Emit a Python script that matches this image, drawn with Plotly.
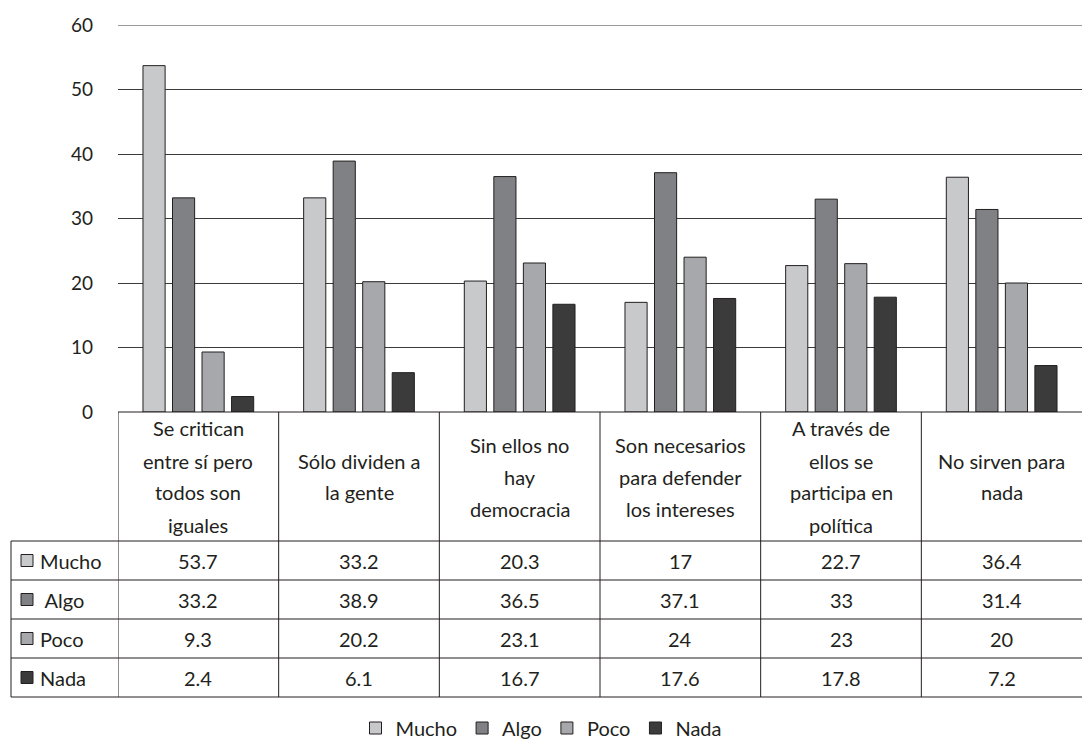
import plotly.graph_objects as go

categories = [
    "Se critican entre sí pero todos son iguales",
    "Sólo dividen a la gente",
    "Sin ellos no hay democracia",
    "Son necesarios para defender los intereses",
    "A través de ellos se participa en política",
    "No sirven para nada",
]
category_lines = [
    ["Se critican", "entre sí pero", "todos son", "iguales"],
    ["Sólo dividen a", "la gente"],
    ["Sin ellos no", "hay", "democracia"],
    ["Son necesarios", "para defender", "los intereses"],
    ["A través de", "ellos se", "participa en", "política"],
    ["No sirven para", "nada"],
]
series_names = ["Mucho", "Algo", "Poco", "Nada"]
row_labels = ["Mucho", " Algo", "Poco", "Nada"]
mucho = [53.7, 33.2, 20.3, 17, 22.7, 36.4]
algo = [33.2, 38.9, 36.5, 37.1, 33, 31.4]
poco = [9.3, 20.2, 23.1, 24, 23, 20]
nada = [2.4, 6.1, 16.7, 17.6, 17.8, 7.2]
series_values = [mucho, algo, poco, nada]
series_colors = ["#c8c9cb", "#808184", "#a7a8ab", "#3b3b3c"]
y_ticks = [0, 10, 20, 30, 40, 50, 60]

W, H = 1082, 743
FONT = "Lato, 'Open Sans', sans-serif"
INK = "#231f20"
TXT = 20


def fx(px):
    return px / W


def fy(py):
    return 1 - py / H


x_idx = list(range(len(categories)))

fig = go.Figure()
for name, vals, col in zip(series_names, series_values, series_colors):
    fig.add_trace(go.Bar(
        x=x_idx, y=vals, name=name,
        marker=dict(color=col, line=dict(color=INK, width=1)),
    ))

plot_left, plot_right = 118, 1082
y_top, y_zero = 25, 412
header_bottom = 541
row_h = 39
table_left = 11

shapes = []
line_style = dict(color=INK, width=1)
# top gridline (at the edge of the axis range)
shapes.append(dict(type="line", xref="paper", yref="y",
                   x0=fx(plot_left), x1=fx(plot_right), y0=y_ticks[-1], y1=y_ticks[-1],
                   line=dict(color="#3a3a3a", width=1)))
shapes.append(dict(type="line", xref="paper", yref="paper",
                   x0=fx(plot_left), x1=fx(plot_right), y0=fy(y_zero), y1=fy(y_zero), line=line_style))
for i in range(len(series_names) + 1):
    yy = header_bottom + i * row_h
    shapes.append(dict(type="line", xref="paper", yref="paper",
                       x0=fx(table_left), x1=fx(plot_right), y0=fy(yy), y1=fy(yy), line=line_style))
table_bottom = header_bottom + len(series_names) * row_h
shapes.append(dict(type="line", xref="paper", yref="paper",
                   x0=fx(table_left), x1=fx(table_left), y0=fy(header_bottom), y1=fy(table_bottom), line=line_style))
for k in range(len(categories)):
    shapes.append(dict(type="line", xref="x", yref="paper",
                       x0=k - 0.5, x1=k - 0.5, y0=fy(y_zero), y1=fy(table_bottom), line=line_style))

annotations = []
header_mid = (y_zero + header_bottom) / 2
line_gap = 32
for k, lines in enumerate(category_lines):
    n = len(lines)
    for j, ln in enumerate(lines):
        yy = header_mid + (j - (n - 1) / 2) * line_gap
        annotations.append(dict(x=k, y=fy(yy), xref="x", yref="paper", text=ln,
                                showarrow=False, xanchor="center", yanchor="middle",
                                font=dict(family=FONT, size=TXT, color=INK)))
for r, (lab, vals, col) in enumerate(zip(row_labels, series_values, series_colors)):
    yc = header_bottom + r * row_h + row_h / 2
    for k, v in enumerate(vals):
        annotations.append(dict(x=k, y=fy(yc), xref="x", yref="paper", text=f"{v:g}",
                                showarrow=False, xanchor="center", yanchor="middle",
                                font=dict(family=FONT, size=TXT, color=INK)))
    annotations.append(dict(x=fx(38), y=fy(yc), xref="paper", yref="paper", text=lab,
                            showarrow=False, xanchor="left", yanchor="middle",
                            font=dict(family=FONT, size=TXT, color=INK)))
    shapes.append(dict(type="rect", xref="paper", yref="paper",
                       x0=fx(21), x1=fx(33), y0=fy(yc - 6), y1=fy(yc + 6),
                       fillcolor=col, line=dict(color=INK, width=1)))

fig.update_layout(
    width=W, height=H,
    margin=dict(l=0, r=0, t=0, b=0, autoexpand=False),
    paper_bgcolor="white", plot_bgcolor="white",
    barmode="group", bargap=0.265, bargroupgap=0.25,
    font=dict(family=FONT, size=TXT, color=INK),
    xaxis=dict(domain=[fx(plot_left), fx(plot_right)], range=[-0.5, len(categories) - 0.5],
               showticklabels=False, showgrid=False, zeroline=False, showline=False, ticks=""),
    yaxis=dict(domain=[fy(y_zero), fy(y_top)], range=[0, 60], tickvals=y_ticks,
               showgrid=True, gridcolor="#3a3a3a", gridwidth=1, zeroline=False, showline=False,
               ticks="", ticklabelstandoff=24,
               tickfont=dict(family=FONT, size=19, color=INK)),
    shapes=shapes,
    annotations=annotations,
    legend=dict(orientation="h", x=0.5, xanchor="center", y=fy(728), yanchor="middle",
                font=dict(family=FONT, size=TXT, color=INK), itemwidth=30,
                traceorder="normal"),
    showlegend=True,
)

fig.write_html("out.html")
